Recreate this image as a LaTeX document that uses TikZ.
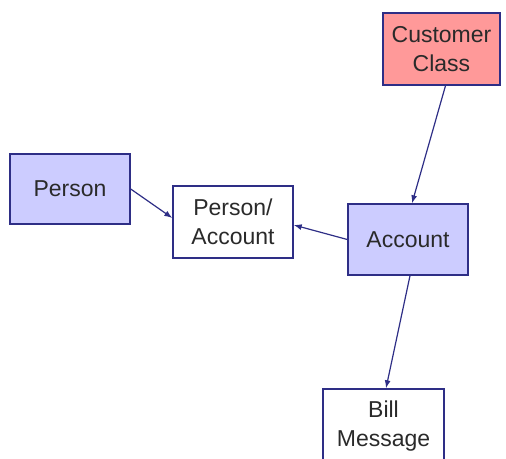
\documentclass[tikz,border=0pt]{standalone}
\usepackage{fontspec}
\setmainfont{Liberation Sans}
\usetikzlibrary{arrows.meta}
\definecolor{edgeblue}{HTML}{2E2E86}
\definecolor{lav}{HTML}{CCCCFF}
\definecolor{salmon}{HTML}{FF9999}
\definecolor{txt}{HTML}{2A2A2A}
\tikzset{
  ent/.style={draw=edgeblue, line width=1.4pt, align=center, inner sep=0pt,
    text=txt, font=\fontsize{23}{28.5}\selectfont},
  conn/.style={draw=edgeblue, line width=1.2pt, -{Latex[length=8pt,width=6pt]}}
}
\begin{document}
\begin{tikzpicture}[x=1pt,y=1pt]
\clip (0,0) rectangle (506,458);
\useasboundingbox (0,0) rectangle (506,458);
\node[ent, fill=salmon, minimum width=117pt, minimum height=72pt] (cust) at (441.5,409) {Customer\\Class};
\node[ent, fill=lav, minimum width=120pt, minimum height=70pt] (person) at (70,269) {Person};
\node[ent, fill=white, minimum width=120pt, minimum height=72pt] (pa) at (233,236) {Person/\\Account};
\node[ent, fill=lav, minimum width=120pt, minimum height=71pt] (acc) at (408,218.5) {Account};
\node[ent, fill=white, minimum width=121pt, minimum height=74pt] (bill) at (383.5,32) {Bill\\Message};
\draw[conn] ([xshift=4pt]cust.south) -- ([xshift=4pt]acc.north);
\draw[conn] (person.east) -- ([yshift=4pt]pa.west);
\draw[conn] (acc.west) -- ([yshift=-3pt]pa.east);
\draw[conn] ([xshift=2pt]acc.south) -- ([xshift=2.5pt]bill.north);
\end{tikzpicture}
\end{document}
